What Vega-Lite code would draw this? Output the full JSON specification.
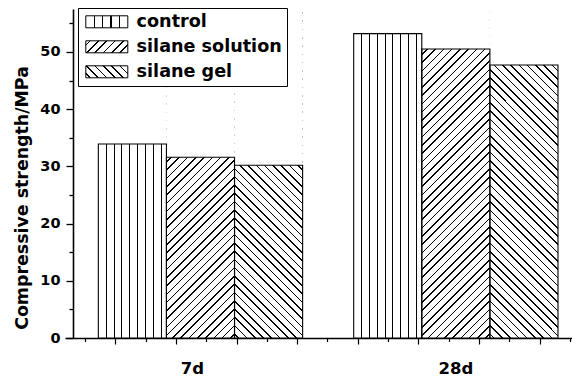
{
  "$schema": "https://vega.github.io/schema/vega-lite/v6.json",
  "width": 507,
  "height": 329,
  "autosize": {"type": "none"},
  "padding": {"left": 65, "top": 9, "right": 0, "bottom": 39},
  "background": "white",
  "config": {"view": {"stroke": null}, "font": "DejaVu Sans", "axis": {"grid": false}},
  "data": {"values": [
    {"group": "7d", "series": "control", "value": 33.9},
    {"group": "7d", "series": "silane solution", "value": 31.6},
    {"group": "7d", "series": "silane gel", "value": 30.2},
    {"group": "28d", "series": "control", "value": 53.2},
    {"group": "28d", "series": "silane solution", "value": 50.5},
    {"group": "28d", "series": "silane gel", "value": 47.7}
  ]},
  "layer": [
    {
      "encoding": {
        "x": {"field": "group", "type": "nominal",
          "scale": {"domain": ["7d", "28d"], "paddingInner": 0.2, "paddingOuter": 0.0927, "align": 0.704},
          "axis": {"orient": "bottom", "ticks": false, "tickSize": 0, "labelPadding": 22, "labelAngle": 0,
            "labelOffset": {"condition": {"test": "datum.value === '7d'", "value": -8}, "value": 0},
            "labelFont": "DejaVu Sans", "labelFontWeight": "bold", "labelFontSize": 16.5, "labelColor": "black",
            "domainColor": "black", "domainWidth": 1.4, "title": null, "grid": false}},
        "xOffset": {"field": "series", "type": "nominal",
          "scale": {"domain": ["control", "silane solution", "silane gel"], "paddingInner": 0, "paddingOuter": 0}},
        "y": {"field": "value", "type": "quantitative", "stack": null,
          "scale": {"domain": [0, 57.5], "nice": false, "zero": true},
          "axis": {"values": [0, 5, 10, 15, 20, 25, 30, 35, 40, 45, 50, 55], "offset": -8,
            "labelExpr": "datum.value % 10 === 0 ? datum.label : ''",
            "tickSize": {"condition": {"test": "datum.value % 10 === 0", "value": 7}, "value": 4},
            "labelFont": "DejaVu Sans", "labelFontWeight": "bold", "labelFontSize": 14.5, "labelColor": "black",
            "labelPadding": 6, "domainColor": "black", "domainWidth": 1.6, "tickColor": "black", "tickWidth": 1.3,
            "grid": false, "title": "Compressive strength/MPa", "titleFont": "DejaVu Sans", "titleFontWeight": "bold",
            "titleFontSize": 17.4, "titleColor": "black", "titleX": -51, "titleY": 188.5, "titleBaseline": "middle",
            "titleAngle": -90, "titleAlign": "center"}}
      },
      "layer": [
        {
          "transform": [{"filter": "datum.series === 'control'"}],
          "mark": {"type": "bar", "strokeWidth": 0, "fill": {"gradient": "linear", "x1": 0, "y1": 0, "x2": 1, "y2": 0, "stops": [
            {"offset":0.1078,"color":"#fff"},{"offset":0.1078,"color":"#000"},{"offset":0.1228,"color":"#000"},{"offset":0.1228,"color":"#fff"},
            {"offset":0.2231,"color":"#fff"},{"offset":0.2231,"color":"#000"},{"offset":0.2381,"color":"#000"},{"offset":0.2381,"color":"#fff"},
            {"offset":0.3384,"color":"#fff"},{"offset":0.3384,"color":"#000"},{"offset":0.3534,"color":"#000"},{"offset":0.3534,"color":"#fff"},
            {"offset":0.4537,"color":"#fff"},{"offset":0.4537,"color":"#000"},{"offset":0.4687,"color":"#000"},{"offset":0.4687,"color":"#fff"},
            {"offset":0.5690,"color":"#fff"},{"offset":0.5690,"color":"#000"},{"offset":0.5840,"color":"#000"},{"offset":0.5840,"color":"#fff"},
            {"offset":0.6843,"color":"#fff"},{"offset":0.6843,"color":"#000"},{"offset":0.6993,"color":"#000"},{"offset":0.6993,"color":"#fff"},
            {"offset":0.7996,"color":"#fff"},{"offset":0.7996,"color":"#000"},{"offset":0.8146,"color":"#000"},{"offset":0.8146,"color":"#fff"},
            {"offset":0.9149,"color":"#fff"},{"offset":0.9149,"color":"#000"},{"offset":0.9299,"color":"#000"},{"offset":0.9299,"color":"#fff"}
          ]}},
          "encoding": {"y": {"datum": 57.5, "type": "quantitative", "stack": null}}
        },
        {
          "transform": [{"filter": "datum.series === 'silane solution'"}],
          "mark": {"type": "bar", "strokeWidth": 0, "fill": {"gradient": "linear", "x1": 0, "y1": 0, "x2": 0.2396, "y2": 1.1574, "stops": [
            {"offset":0.0084,"color":"#fff"},{"offset":0.0084,"color":"#000"},{"offset":0.0124,"color":"#000"},{"offset":0.0124,"color":"#fff"},
            {"offset":0.0293,"color":"#fff"},{"offset":0.0293,"color":"#000"},{"offset":0.0333,"color":"#000"},{"offset":0.0333,"color":"#fff"},
            {"offset":0.0501,"color":"#fff"},{"offset":0.0501,"color":"#000"},{"offset":0.0541,"color":"#000"},{"offset":0.0541,"color":"#fff"},
            {"offset":0.0709,"color":"#fff"},{"offset":0.0709,"color":"#000"},{"offset":0.0749,"color":"#000"},{"offset":0.0749,"color":"#fff"},
            {"offset":0.0918,"color":"#fff"},{"offset":0.0918,"color":"#000"},{"offset":0.0958,"color":"#000"},{"offset":0.0958,"color":"#fff"},
            {"offset":0.1126,"color":"#fff"},{"offset":0.1126,"color":"#000"},{"offset":0.1166,"color":"#000"},{"offset":0.1166,"color":"#fff"},
            {"offset":0.1334,"color":"#fff"},{"offset":0.1334,"color":"#000"},{"offset":0.1374,"color":"#000"},{"offset":0.1374,"color":"#fff"},
            {"offset":0.1543,"color":"#fff"},{"offset":0.1543,"color":"#000"},{"offset":0.1583,"color":"#000"},{"offset":0.1583,"color":"#fff"},
            {"offset":0.1751,"color":"#fff"},{"offset":0.1751,"color":"#000"},{"offset":0.1791,"color":"#000"},{"offset":0.1791,"color":"#fff"},
            {"offset":0.1959,"color":"#fff"},{"offset":0.1959,"color":"#000"},{"offset":0.1999,"color":"#000"},{"offset":0.1999,"color":"#fff"},
            {"offset":0.2168,"color":"#fff"},{"offset":0.2168,"color":"#000"},{"offset":0.2208,"color":"#000"},{"offset":0.2208,"color":"#fff"},
            {"offset":0.2376,"color":"#fff"},{"offset":0.2376,"color":"#000"},{"offset":0.2416,"color":"#000"},{"offset":0.2416,"color":"#fff"},
            {"offset":0.2584,"color":"#fff"},{"offset":0.2584,"color":"#000"},{"offset":0.2624,"color":"#000"},{"offset":0.2624,"color":"#fff"},
            {"offset":0.2793,"color":"#fff"},{"offset":0.2793,"color":"#000"},{"offset":0.2833,"color":"#000"},{"offset":0.2833,"color":"#fff"},
            {"offset":0.3001,"color":"#fff"},{"offset":0.3001,"color":"#000"},{"offset":0.3041,"color":"#000"},{"offset":0.3041,"color":"#fff"},
            {"offset":0.3209,"color":"#fff"},{"offset":0.3209,"color":"#000"},{"offset":0.3249,"color":"#000"},{"offset":0.3249,"color":"#fff"},
            {"offset":0.3418,"color":"#fff"},{"offset":0.3418,"color":"#000"},{"offset":0.3458,"color":"#000"},{"offset":0.3458,"color":"#fff"},
            {"offset":0.3626,"color":"#fff"},{"offset":0.3626,"color":"#000"},{"offset":0.3666,"color":"#000"},{"offset":0.3666,"color":"#fff"},
            {"offset":0.3834,"color":"#fff"},{"offset":0.3834,"color":"#000"},{"offset":0.3874,"color":"#000"},{"offset":0.3874,"color":"#fff"},
            {"offset":0.4043,"color":"#fff"},{"offset":0.4043,"color":"#000"},{"offset":0.4083,"color":"#000"},{"offset":0.4083,"color":"#fff"},
            {"offset":0.4251,"color":"#fff"},{"offset":0.4251,"color":"#000"},{"offset":0.4291,"color":"#000"},{"offset":0.4291,"color":"#fff"},
            {"offset":0.4459,"color":"#fff"},{"offset":0.4459,"color":"#000"},{"offset":0.4499,"color":"#000"},{"offset":0.4499,"color":"#fff"},
            {"offset":0.4668,"color":"#fff"},{"offset":0.4668,"color":"#000"},{"offset":0.4708,"color":"#000"},{"offset":0.4708,"color":"#fff"},
            {"offset":0.4876,"color":"#fff"},{"offset":0.4876,"color":"#000"},{"offset":0.4916,"color":"#000"},{"offset":0.4916,"color":"#fff"},
            {"offset":0.5084,"color":"#fff"},{"offset":0.5084,"color":"#000"},{"offset":0.5124,"color":"#000"},{"offset":0.5124,"color":"#fff"},
            {"offset":0.5293,"color":"#fff"},{"offset":0.5293,"color":"#000"},{"offset":0.5333,"color":"#000"},{"offset":0.5333,"color":"#fff"},
            {"offset":0.5501,"color":"#fff"},{"offset":0.5501,"color":"#000"},{"offset":0.5541,"color":"#000"},{"offset":0.5541,"color":"#fff"},
            {"offset":0.5709,"color":"#fff"},{"offset":0.5709,"color":"#000"},{"offset":0.5749,"color":"#000"},{"offset":0.5749,"color":"#fff"},
            {"offset":0.5918,"color":"#fff"},{"offset":0.5918,"color":"#000"},{"offset":0.5958,"color":"#000"},{"offset":0.5958,"color":"#fff"},
            {"offset":0.6126,"color":"#fff"},{"offset":0.6126,"color":"#000"},{"offset":0.6166,"color":"#000"},{"offset":0.6166,"color":"#fff"},
            {"offset":0.6334,"color":"#fff"},{"offset":0.6334,"color":"#000"},{"offset":0.6374,"color":"#000"},{"offset":0.6374,"color":"#fff"},
            {"offset":0.6543,"color":"#fff"},{"offset":0.6543,"color":"#000"},{"offset":0.6583,"color":"#000"},{"offset":0.6583,"color":"#fff"},
            {"offset":0.6751,"color":"#fff"},{"offset":0.6751,"color":"#000"},{"offset":0.6791,"color":"#000"},{"offset":0.6791,"color":"#fff"},
            {"offset":0.6959,"color":"#fff"},{"offset":0.6959,"color":"#000"},{"offset":0.6999,"color":"#000"},{"offset":0.6999,"color":"#fff"},
            {"offset":0.7168,"color":"#fff"},{"offset":0.7168,"color":"#000"},{"offset":0.7208,"color":"#000"},{"offset":0.7208,"color":"#fff"},
            {"offset":0.7376,"color":"#fff"},{"offset":0.7376,"color":"#000"},{"offset":0.7416,"color":"#000"},{"offset":0.7416,"color":"#fff"},
            {"offset":0.7584,"color":"#fff"},{"offset":0.7584,"color":"#000"},{"offset":0.7624,"color":"#000"},{"offset":0.7624,"color":"#fff"},
            {"offset":0.7793,"color":"#fff"},{"offset":0.7793,"color":"#000"},{"offset":0.7833,"color":"#000"},{"offset":0.7833,"color":"#fff"},
            {"offset":0.8001,"color":"#fff"},{"offset":0.8001,"color":"#000"},{"offset":0.8041,"color":"#000"},{"offset":0.8041,"color":"#fff"},
            {"offset":0.8209,"color":"#fff"},{"offset":0.8209,"color":"#000"},{"offset":0.8249,"color":"#000"},{"offset":0.8249,"color":"#fff"},
            {"offset":0.8418,"color":"#fff"},{"offset":0.8418,"color":"#000"},{"offset":0.8458,"color":"#000"},{"offset":0.8458,"color":"#fff"},
            {"offset":0.8626,"color":"#fff"},{"offset":0.8626,"color":"#000"},{"offset":0.8666,"color":"#000"},{"offset":0.8666,"color":"#fff"},
            {"offset":0.8834,"color":"#fff"},{"offset":0.8834,"color":"#000"},{"offset":0.8874,"color":"#000"},{"offset":0.8874,"color":"#fff"},
            {"offset":0.9043,"color":"#fff"},{"offset":0.9043,"color":"#000"},{"offset":0.9083,"color":"#000"},{"offset":0.9083,"color":"#fff"},
            {"offset":0.9251,"color":"#fff"},{"offset":0.9251,"color":"#000"},{"offset":0.9291,"color":"#000"},{"offset":0.9291,"color":"#fff"},
            {"offset":0.9459,"color":"#fff"},{"offset":0.9459,"color":"#000"},{"offset":0.9499,"color":"#000"},{"offset":0.9499,"color":"#fff"},
            {"offset":0.9668,"color":"#fff"},{"offset":0.9668,"color":"#000"},{"offset":0.9708,"color":"#000"},{"offset":0.9708,"color":"#fff"},
            {"offset":0.9876,"color":"#fff"},{"offset":0.9876,"color":"#000"},{"offset":0.9916,"color":"#000"},{"offset":0.9916,"color":"#fff"}
          ]}},
          "encoding": {"y": {"datum": 57.5, "type": "quantitative", "stack": null}}
        },
        {
          "transform": [{"filter": "datum.series === 'silane gel'"}],
          "mark": {"type": "bar", "strokeWidth": 0, "fill": {"gradient": "linear", "x1": 0, "y1": 1, "x2": 0.2396, "y2": -0.1574, "stops": [
            {"offset":0.0084,"color":"#fff"},{"offset":0.0084,"color":"#000"},{"offset":0.0124,"color":"#000"},{"offset":0.0124,"color":"#fff"},
            {"offset":0.0293,"color":"#fff"},{"offset":0.0293,"color":"#000"},{"offset":0.0333,"color":"#000"},{"offset":0.0333,"color":"#fff"},
            {"offset":0.0501,"color":"#fff"},{"offset":0.0501,"color":"#000"},{"offset":0.0541,"color":"#000"},{"offset":0.0541,"color":"#fff"},
            {"offset":0.0709,"color":"#fff"},{"offset":0.0709,"color":"#000"},{"offset":0.0749,"color":"#000"},{"offset":0.0749,"color":"#fff"},
            {"offset":0.0918,"color":"#fff"},{"offset":0.0918,"color":"#000"},{"offset":0.0958,"color":"#000"},{"offset":0.0958,"color":"#fff"},
            {"offset":0.1126,"color":"#fff"},{"offset":0.1126,"color":"#000"},{"offset":0.1166,"color":"#000"},{"offset":0.1166,"color":"#fff"},
            {"offset":0.1334,"color":"#fff"},{"offset":0.1334,"color":"#000"},{"offset":0.1374,"color":"#000"},{"offset":0.1374,"color":"#fff"},
            {"offset":0.1543,"color":"#fff"},{"offset":0.1543,"color":"#000"},{"offset":0.1583,"color":"#000"},{"offset":0.1583,"color":"#fff"},
            {"offset":0.1751,"color":"#fff"},{"offset":0.1751,"color":"#000"},{"offset":0.1791,"color":"#000"},{"offset":0.1791,"color":"#fff"},
            {"offset":0.1959,"color":"#fff"},{"offset":0.1959,"color":"#000"},{"offset":0.1999,"color":"#000"},{"offset":0.1999,"color":"#fff"},
            {"offset":0.2168,"color":"#fff"},{"offset":0.2168,"color":"#000"},{"offset":0.2208,"color":"#000"},{"offset":0.2208,"color":"#fff"},
            {"offset":0.2376,"color":"#fff"},{"offset":0.2376,"color":"#000"},{"offset":0.2416,"color":"#000"},{"offset":0.2416,"color":"#fff"},
            {"offset":0.2584,"color":"#fff"},{"offset":0.2584,"color":"#000"},{"offset":0.2624,"color":"#000"},{"offset":0.2624,"color":"#fff"},
            {"offset":0.2793,"color":"#fff"},{"offset":0.2793,"color":"#000"},{"offset":0.2833,"color":"#000"},{"offset":0.2833,"color":"#fff"},
            {"offset":0.3001,"color":"#fff"},{"offset":0.3001,"color":"#000"},{"offset":0.3041,"color":"#000"},{"offset":0.3041,"color":"#fff"},
            {"offset":0.3209,"color":"#fff"},{"offset":0.3209,"color":"#000"},{"offset":0.3249,"color":"#000"},{"offset":0.3249,"color":"#fff"},
            {"offset":0.3418,"color":"#fff"},{"offset":0.3418,"color":"#000"},{"offset":0.3458,"color":"#000"},{"offset":0.3458,"color":"#fff"},
            {"offset":0.3626,"color":"#fff"},{"offset":0.3626,"color":"#000"},{"offset":0.3666,"color":"#000"},{"offset":0.3666,"color":"#fff"},
            {"offset":0.3834,"color":"#fff"},{"offset":0.3834,"color":"#000"},{"offset":0.3874,"color":"#000"},{"offset":0.3874,"color":"#fff"},
            {"offset":0.4043,"color":"#fff"},{"offset":0.4043,"color":"#000"},{"offset":0.4083,"color":"#000"},{"offset":0.4083,"color":"#fff"},
            {"offset":0.4251,"color":"#fff"},{"offset":0.4251,"color":"#000"},{"offset":0.4291,"color":"#000"},{"offset":0.4291,"color":"#fff"},
            {"offset":0.4459,"color":"#fff"},{"offset":0.4459,"color":"#000"},{"offset":0.4499,"color":"#000"},{"offset":0.4499,"color":"#fff"},
            {"offset":0.4668,"color":"#fff"},{"offset":0.4668,"color":"#000"},{"offset":0.4708,"color":"#000"},{"offset":0.4708,"color":"#fff"},
            {"offset":0.4876,"color":"#fff"},{"offset":0.4876,"color":"#000"},{"offset":0.4916,"color":"#000"},{"offset":0.4916,"color":"#fff"},
            {"offset":0.5084,"color":"#fff"},{"offset":0.5084,"color":"#000"},{"offset":0.5124,"color":"#000"},{"offset":0.5124,"color":"#fff"},
            {"offset":0.5293,"color":"#fff"},{"offset":0.5293,"color":"#000"},{"offset":0.5333,"color":"#000"},{"offset":0.5333,"color":"#fff"},
            {"offset":0.5501,"color":"#fff"},{"offset":0.5501,"color":"#000"},{"offset":0.5541,"color":"#000"},{"offset":0.5541,"color":"#fff"},
            {"offset":0.5709,"color":"#fff"},{"offset":0.5709,"color":"#000"},{"offset":0.5749,"color":"#000"},{"offset":0.5749,"color":"#fff"},
            {"offset":0.5918,"color":"#fff"},{"offset":0.5918,"color":"#000"},{"offset":0.5958,"color":"#000"},{"offset":0.5958,"color":"#fff"},
            {"offset":0.6126,"color":"#fff"},{"offset":0.6126,"color":"#000"},{"offset":0.6166,"color":"#000"},{"offset":0.6166,"color":"#fff"},
            {"offset":0.6334,"color":"#fff"},{"offset":0.6334,"color":"#000"},{"offset":0.6374,"color":"#000"},{"offset":0.6374,"color":"#fff"},
            {"offset":0.6543,"color":"#fff"},{"offset":0.6543,"color":"#000"},{"offset":0.6583,"color":"#000"},{"offset":0.6583,"color":"#fff"},
            {"offset":0.6751,"color":"#fff"},{"offset":0.6751,"color":"#000"},{"offset":0.6791,"color":"#000"},{"offset":0.6791,"color":"#fff"},
            {"offset":0.6959,"color":"#fff"},{"offset":0.6959,"color":"#000"},{"offset":0.6999,"color":"#000"},{"offset":0.6999,"color":"#fff"},
            {"offset":0.7168,"color":"#fff"},{"offset":0.7168,"color":"#000"},{"offset":0.7208,"color":"#000"},{"offset":0.7208,"color":"#fff"},
            {"offset":0.7376,"color":"#fff"},{"offset":0.7376,"color":"#000"},{"offset":0.7416,"color":"#000"},{"offset":0.7416,"color":"#fff"},
            {"offset":0.7584,"color":"#fff"},{"offset":0.7584,"color":"#000"},{"offset":0.7624,"color":"#000"},{"offset":0.7624,"color":"#fff"},
            {"offset":0.7793,"color":"#fff"},{"offset":0.7793,"color":"#000"},{"offset":0.7833,"color":"#000"},{"offset":0.7833,"color":"#fff"},
            {"offset":0.8001,"color":"#fff"},{"offset":0.8001,"color":"#000"},{"offset":0.8041,"color":"#000"},{"offset":0.8041,"color":"#fff"},
            {"offset":0.8209,"color":"#fff"},{"offset":0.8209,"color":"#000"},{"offset":0.8249,"color":"#000"},{"offset":0.8249,"color":"#fff"},
            {"offset":0.8418,"color":"#fff"},{"offset":0.8418,"color":"#000"},{"offset":0.8458,"color":"#000"},{"offset":0.8458,"color":"#fff"},
            {"offset":0.8626,"color":"#fff"},{"offset":0.8626,"color":"#000"},{"offset":0.8666,"color":"#000"},{"offset":0.8666,"color":"#fff"},
            {"offset":0.8834,"color":"#fff"},{"offset":0.8834,"color":"#000"},{"offset":0.8874,"color":"#000"},{"offset":0.8874,"color":"#fff"},
            {"offset":0.9043,"color":"#fff"},{"offset":0.9043,"color":"#000"},{"offset":0.9083,"color":"#000"},{"offset":0.9083,"color":"#fff"},
            {"offset":0.9251,"color":"#fff"},{"offset":0.9251,"color":"#000"},{"offset":0.9291,"color":"#000"},{"offset":0.9291,"color":"#fff"},
            {"offset":0.9459,"color":"#fff"},{"offset":0.9459,"color":"#000"},{"offset":0.9499,"color":"#000"},{"offset":0.9499,"color":"#fff"},
            {"offset":0.9668,"color":"#fff"},{"offset":0.9668,"color":"#000"},{"offset":0.9708,"color":"#000"},{"offset":0.9708,"color":"#fff"},
            {"offset":0.9876,"color":"#fff"},{"offset":0.9876,"color":"#000"},{"offset":0.9916,"color":"#000"},{"offset":0.9916,"color":"#fff"}
          ]}},
          "encoding": {"y": {"datum": 57.5, "type": "quantitative", "stack": null}}
        },
        {
          "mark": {"type": "bar", "fill": "white", "strokeWidth": 0},
          "encoding": {"y2": {"datum": 57.5}}
        },
        {
          "mark": {"type": "bar", "fill": "transparent", "strokeWidth": 1.1},
          "encoding": {
            "stroke": {"field": "series", "type": "nominal",
              "scale": {"domain": ["control", "silane solution", "silane gel"], "range": ["black", "black", "black"]},
              "legend": {"title": null, "orient": "none", "legendX": 13, "legendY": -1, "direction": "vertical",
                "symbolType": "M-1,-1H6V1H-1Z", "symbolSize": 144, "symbolStrokeWidth": 1, "symbolStrokeColor": "black",
                "labelFont": "DejaVu Sans", "labelFontWeight": "bold", "labelFontSize": 17.6, "labelColor": "black",
                "labelOffset": 36, "labelLimit": 300, "rowPadding": 6, "padding": 5,
                "strokeColor": "black", "fillColor": "white", "zindex": 1,
                "encoding": {"symbols": {
                  "fill": {"condition": [
                    {"test": "datum.value === 'control'", "value": {"gradient": "linear", "x1": 0, "y1": 0, "x2": 1, "y2": 0, "stops": [
                      {"offset":0.188,"color":"#fff"},{"offset":0.188,"color":"#000"},{"offset":0.212,"color":"#000"},{"offset":0.212,"color":"#fff"},
                      {"offset":0.388,"color":"#fff"},{"offset":0.388,"color":"#000"},{"offset":0.412,"color":"#000"},{"offset":0.412,"color":"#fff"},
                      {"offset":0.588,"color":"#fff"},{"offset":0.588,"color":"#000"},{"offset":0.612,"color":"#000"},{"offset":0.612,"color":"#fff"},
                      {"offset":0.788,"color":"#fff"},{"offset":0.788,"color":"#000"},{"offset":0.812,"color":"#000"},{"offset":0.812,"color":"#fff"}]}},
                    {"test": "datum.value === 'silane solution'", "value": {"gradient": "linear", "x1": 0, "y1": 0, "x2": 1.1887, "y2": 0.3396, "stops": [
                      {"offset":0.065,"color":"#fff"},{"offset":0.065,"color":"#000"},{"offset":0.095,"color":"#000"},{"offset":0.095,"color":"#fff"},
                      {"offset":0.22,"color":"#fff"},{"offset":0.22,"color":"#000"},{"offset":0.25,"color":"#000"},{"offset":0.25,"color":"#fff"},
                      {"offset":0.375,"color":"#fff"},{"offset":0.375,"color":"#000"},{"offset":0.405,"color":"#000"},{"offset":0.405,"color":"#fff"},
                      {"offset":0.53,"color":"#fff"},{"offset":0.53,"color":"#000"},{"offset":0.56,"color":"#000"},{"offset":0.56,"color":"#fff"},
                      {"offset":0.685,"color":"#fff"},{"offset":0.685,"color":"#000"},{"offset":0.715,"color":"#000"},{"offset":0.715,"color":"#fff"},
                      {"offset":0.84,"color":"#fff"},{"offset":0.84,"color":"#000"},{"offset":0.87,"color":"#000"},{"offset":0.87,"color":"#fff"}]}}
                  ],
                  "value": {"gradient": "linear", "x1": 0, "y1": 1, "x2": 1.1887, "y2": 0.6604, "stops": [
                      {"offset":0.065,"color":"#fff"},{"offset":0.065,"color":"#000"},{"offset":0.095,"color":"#000"},{"offset":0.095,"color":"#fff"},
                      {"offset":0.22,"color":"#fff"},{"offset":0.22,"color":"#000"},{"offset":0.25,"color":"#000"},{"offset":0.25,"color":"#fff"},
                      {"offset":0.375,"color":"#fff"},{"offset":0.375,"color":"#000"},{"offset":0.405,"color":"#000"},{"offset":0.405,"color":"#fff"},
                      {"offset":0.53,"color":"#fff"},{"offset":0.53,"color":"#000"},{"offset":0.56,"color":"#000"},{"offset":0.56,"color":"#fff"},
                      {"offset":0.685,"color":"#fff"},{"offset":0.685,"color":"#000"},{"offset":0.715,"color":"#000"},{"offset":0.715,"color":"#fff"},
                      {"offset":0.84,"color":"#fff"},{"offset":0.84,"color":"#000"},{"offset":0.87,"color":"#000"},{"offset":0.87,"color":"#fff"}]}},
                  "stroke": {"value": "black"},
                  "strokeWidth": {"value": 1},
                  "opacity": {"value": 1},
                  "fillOpacity": {"value": 1}
                }}
              }}
          }
        }
      ]
    },
    {
      "mark": {"type": "point", "opacity": 0},
      "encoding": {
        "x": {"datum": 0, "type": "quantitative",
          "scale": {"domain": [-0.6598, 16.067], "nice": false, "zero": false},
          "axis": {"orient": "bottom", "values": [0,1,2,3,4,5,6,7,8,9,10,11,12,13,14,15,16],
            "labels": false, "domain": false, "grid": false, "title": null, "ticks": true,
            "tickColor": "black", "tickWidth": 1.2,
            "tickSize": {"condition": {"test": "datum.value % 2 === 1", "value": 6}, "value": 3.5}}}
      }
    }
  ],
  "resolve": {"scale": {"x": "independent"}}
}
